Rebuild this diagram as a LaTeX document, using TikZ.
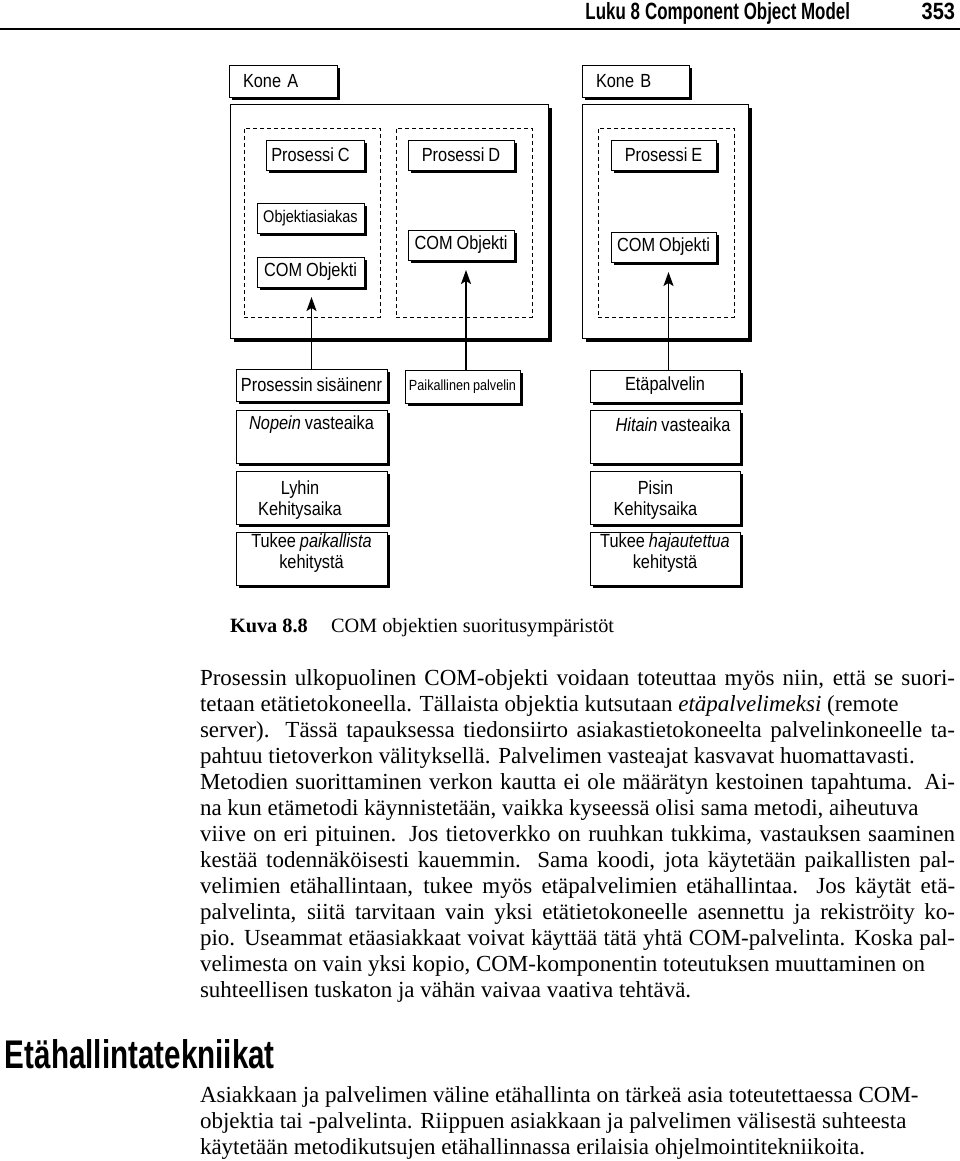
\documentclass[tikz,border=0pt]{standalone}
\usepackage{fontspec}
\usepackage{graphicx}
\setmainfont{Liberation Serif}
\newfontfamily\sansf[FakeStretch=0.86,WordSpace=0.86]{Liberation Sans}
\newfontfamily\sansh{Liberation Sans}
\usetikzlibrary{shadows,arrows.meta}
\newcommand\dfont{\sansf\fontsize{19}{21.5}\selectfont}
\newcommand\smallsans{\sansf\fontsize{16.9}{19}\selectfont}
\newcommand\tinysans{\sansf\fontsize{14.7}{17}\selectfont}
\newcommand\bodyfont{\fontsize{23}{26}\selectfont}
\newcommand\capfont{\fontsize{20.3}{24}\selectfont}
\newcommand\up[2]{\raisebox{#1}[\height][\depth]{#2}}
\newcommand\jl[1]{\makebox[755pt][s]{#1}}
\newcommand\twol[2]{\begin{tabular}{@{}c@{}}#1\\#2\end{tabular}}
\begin{document}
\begin{tikzpicture}[x=1pt,y=-1pt,
  every node/.style={inner sep=0pt,outer sep=0pt},
  sbox/.style={draw,line width=0.8pt,fill=white,font=\dfont,align=center,
    general shadow={fill=black,shadow xshift=3pt,shadow yshift=-3pt}},
  bigbox/.style={draw,line width=0.8pt,fill=white,
    general shadow={fill=black,shadow xshift=4pt,shadow yshift=-4pt}},
  dbox/.style={draw,line width=0.8pt,dash pattern=on 4pt off 3pt,
    minimum width=136pt,minimum height=189pt},
  conn/.style={line width=1.7pt,-{Stealth[length=14pt,width=10pt,inset=3pt]},shorten >=10pt},
  line/.style={anchor=base west,font=\bodyfont},
]
\useasboundingbox (0,0) rectangle (960,1161);

% header
\node[anchor=base east,font=\sansh\bfseries\fontsize{23.5}{26}\selectfont] (hdr) at (850,20)
  {\scalebox{0.72}[1]{Luku 8\hspace{0.3em}Component Object Model}};
\node[anchor=base east,font=\sansh\bfseries\fontsize{23.5}{26}\selectfont] (pagenum) at (955,20)
  {\scalebox{0.85}[1]{353}};
\draw[line width=1.5pt] (0,29) -- (960,29);

% machines
\node[bigbox,minimum width=318pt,minimum height=234pt] (machA) at (389,221) {};
\node[bigbox,minimum width=166pt,minimum height=234pt] (machB) at (665,221) {};
\node[sbox,minimum width=108pt,minimum height=32pt,text width=80pt,align=left] (koneA) at (283,81) {Kone A};
\node[sbox,minimum width=107pt,minimum height=32pt,text width=79pt,align=left] (koneB) at (635.5,81) {Kone B};

% processes
\node[dbox] (pboxC) at (312,222.5) {};
\node[dbox] (pboxD) at (464,222.5) {};
\node[dbox] (pboxE) at (666,222.5) {};

\node[sbox,minimum width=98pt,minimum height=30pt] (procC) at (315,155) {\hspace*{-9pt}Prosessi C};
\node[sbox,minimum width=107pt,minimum height=30pt,font=\smallsans] (objas) at (310.5,218) {Objektiasiakas};
\node[sbox,minimum width=107pt,minimum height=30pt] (comC) at (310.5,272) {COM Objekti};
\node[sbox,minimum width=106pt,minimum height=30pt] (procD) at (461,155) {Prosessi D};
\node[sbox,minimum width=106pt,minimum height=30pt] (comD) at (461,245) {COM Objekti};
\node[sbox,minimum width=105pt,minimum height=30pt] (procE) at (663.5,155) {Prosessi E};
\node[sbox,minimum width=105pt,minimum height=30pt] (comE) at (663.5,247) {COM Objekti};

% property columns
\node[sbox,minimum width=151pt,minimum height=32pt] (psis) at (311.5,385) {Prosessin sisäinenr};
\node[sbox,minimum width=151pt,minimum height=53pt] (nopein) at (311.5,436.5) {\up{12pt}{\textit{Nopein} vasteaika}};
\node[sbox,minimum width=151pt,minimum height=53pt] (lyhin) at (311.5,497.5) {\hspace*{-23pt}\up{-3pt}{\twol{Lyhin}{Kehitysaika}}};
\node[sbox,minimum width=151pt,minimum height=53pt] (tukeeP) at (311.5,558.5) {\up{5pt}{\twol{Tukee \textit{paikallista}}{kehitystä}}};

\node[sbox,minimum width=115pt,minimum height=33pt,font=\tinysans] (ppal) at (462.5,386.5) {Paikallinen palvelin};

\node[sbox,minimum width=150pt,minimum height=32pt] (etap) at (665,386) {Etäpalvelin};
\node[sbox,minimum width=150pt,minimum height=53pt] (hitain) at (665,436.5) {\hspace*{16pt}\up{12pt}{\textit{Hitain} vasteaika}};
\node[sbox,minimum width=150pt,minimum height=53pt] (pisin) at (665,497.5) {\hspace*{-19pt}\up{-3pt}{\twol{Pisin}{Kehitysaika}}};
\node[sbox,minimum width=150pt,minimum height=53pt] (tukeeH) at (665,558.5) {\up{5pt}{\twol{Tukee \textit{hajautettua}}{kehitystä}}};

% connectors
\draw[conn] (psis.north) -- (psis.north |- comC.south);
\draw[conn] ([xshift=3.5pt]ppal.north) -- ([xshift=3.5pt]ppal.north |- comD.south);
\draw[conn] ([xshift=3.5pt]etap.north) -- ([xshift=3.5pt]etap.north |- comE.south);

% caption
\node[anchor=base west,font=\capfont\bfseries] (capnum) at (230,632) {Kuva 8.8};
\node[anchor=base west,font=\capfont] (captext) at (331,632) {COM objektien suoritusympäristöt};

% body paragraph 1
\node[line] (l1) at (200,685) {\jl{Prosessin ulkopuolinen COM-objekti voidaan toteuttaa myös niin, että se suori-}};
\node[line] (l2) at (200,711) {tetaan etätietokoneella. Tällaista objektia kutsutaan \textit{etäpalvelimeksi} (remote};
\node[line] (l3) at (200,737) {\jl{server). Tässä tapauksessa tiedonsiirto asiakastietokoneelta palvelinkoneelle ta-}};
\node[line] (l4) at (200,763) {pahtuu tietoverkon välityksellä. Palvelimen vasteajat kasvavat huomattavasti.};
\node[line] (l5) at (200,789) {\jl{Metodien suorittaminen verkon kautta ei ole määrätyn kestoinen tapahtuma. Ai-}};
\node[line] (l6) at (200,815) {na kun etämetodi käynnistetään, vaikka kyseessä olisi sama metodi, aiheutuva};
\node[line] (l7) at (200,841) {\jl{viive on eri pituinen. Jos tietoverkko on ruuhkan tukkima, vastauksen saaminen}};
\node[line] (l8) at (200,867) {\jl{kestää todennäköisesti kauemmin. Sama koodi, jota käytetään paikallisten pal-}};
\node[line] (l9) at (200,893) {\jl{velimien etähallintaan, tukee myös etäpalvelimien etähallintaa. Jos käytät etä-}};
\node[line] (l10) at (200,919) {\jl{palvelinta, siitä tarvitaan vain yksi etätietokoneelle asennettu ja rekiströity ko-}};
\node[line] (l11) at (200,945) {\jl{pio. Useammat etäasiakkaat voivat käyttää tätä yhtä COM-palvelinta. Koska pal-}};
\node[line] (l12) at (200,971) {velimesta on vain yksi kopio, COM-komponentin toteutuksen muuttaminen on};
\node[line] (l13) at (200,997) {suhteellisen tuskaton ja vähän vaivaa vaativa tehtävä.};

% side heading
\node[anchor=base west,font=\sansh\bfseries\fontsize{40}{44}\selectfont] (sidehead) at (5,1068)
  {\scalebox{0.74}[1]{Etähallintatekniikat}};

% body paragraph 2
\node[line] (m1) at (200,1102) {Asiakkaan ja palvelimen väline etähallinta on tärkeä asia toteutettaessa COM-};
\node[line] (m2) at (200,1128) {objektia tai -palvelinta. Riippuen asiakkaan ja palvelimen välisestä suhteesta};
\node[line] (m3) at (200,1154) {käytetään metodikutsujen etähallinnassa erilaisia ohjelmointitekniikoita.};
\end{tikzpicture}
\end{document}
